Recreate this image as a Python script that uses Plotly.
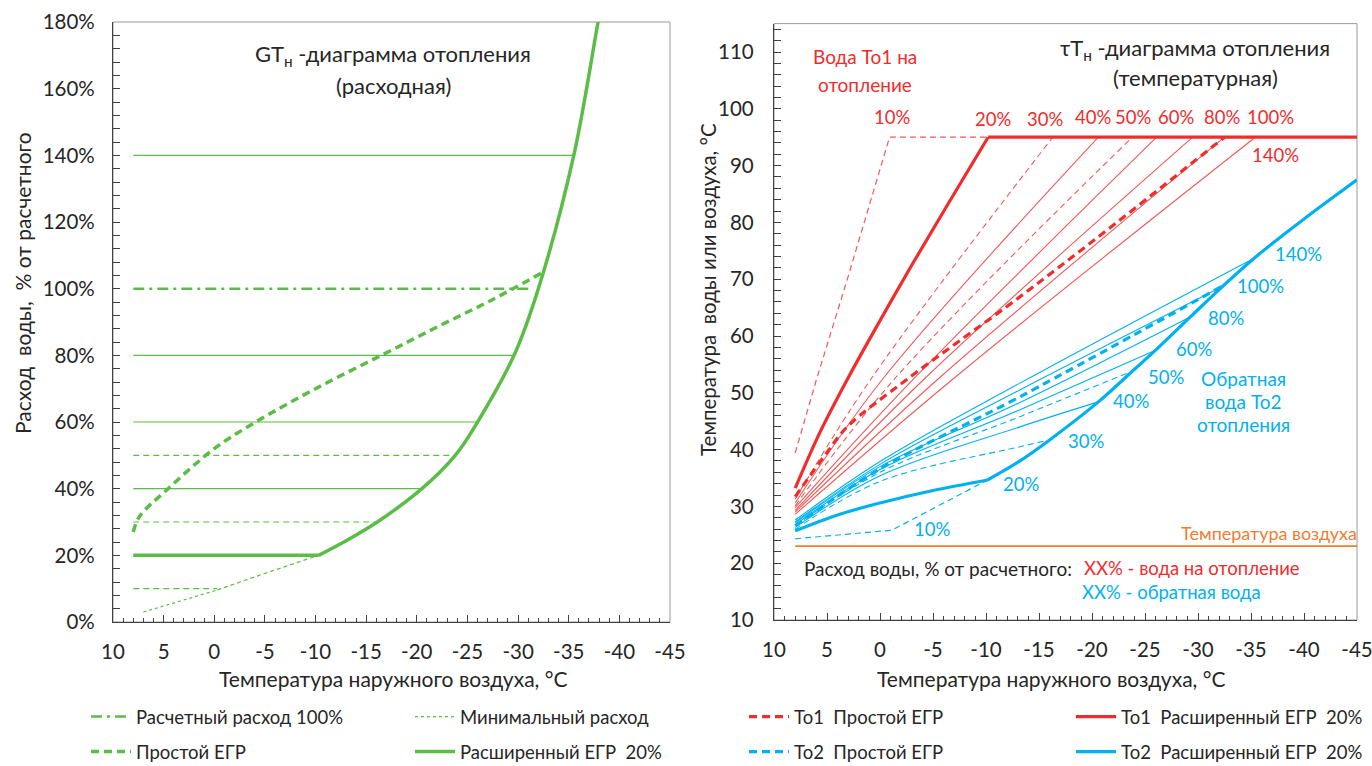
import plotly.graph_objects as go

W, H = 1372, 766
def px(x): return x / W
def py(y): return (H - y) / H

GREEN = "#5BBD45"
RED = "#F02C2C"
RED_THIN = "#F25858"
BLUE = "#00B0F0"
ORANGE = "#ED7D31"
TXT = "#262626"
FONT = "Lato, 'Noto Sans', sans-serif"

# ---------------- data: axes ----------------
x_ticks = [10, 5, 0, -5, -10, -15, -20, -25, -30, -35, -40, -45]
x_tick_text = ["10", "5", "0", "-5", "-10", "-15", "-20", "-25", "-30", "-35", "-40", "-45"]
g_ticks = [0, 20, 40, 60, 80, 100, 120, 140, 160, 180]
g_tick_text = ["0%", "20%", "40%", "60%", "80%", "100%", "120%", "140%", "160%", "180%"]
T_ticks = [10, 20, 30, 40, 50, 60, 70, 80, 90, 100, 110]

# ---------------- data: left chart (flow, %) ----------------
design_t = [8, -31.5]
design_g = [100, 100]
min_t = [7, 3.5, -0.3]
min_g = [3, 6.2, 9.6]
min2_t = [-0.3, -5, -10.3]
min2_g = [9.6, 14.6, 20]
simple_t = [8, 7.4, 4.7, 0, -4.1, -10, -16.5, -22, -27.4, -32.5]
simple_g = [27, 31.6, 39.6, 52, 60, 70, 80, 88.5, 96.6, 105]
ext_flat_t = [8, -10.3]
ext_flat_g = [20, 20]
ext_t = [-10.3, -13.2, -16.1, -20.5, -23.8, -26, -29.6, -32, -35.5, -37.9, -38.6]
ext_g = [20, 24.7, 30, 40, 50, 60, 80, 100, 140, 180, 191]
level_start = 8
solid_levels = [40, 60, 80, 140]
solid_level_ends = [-20.5, -26, -29.6, -35.5]
dashed_levels = [10, 30, 50]
dashed_level_ends = [-0.3, -16.1, -23.8]

# ---------------- data: right chart (temperature, °C) ----------------
to1_10_t = [8, 6, 3, -0.9, -10.2]
to1_10_T = [39.4, 52.3, 70.5, 95, 95]
to1_ext_t = [8, 5.7, 3.1, 0, -3.1, -6.5, -10.2]
to1_ext_T = [33.2, 42.9, 52.3, 62.7, 72.8, 83.5, 95]
to1_flat_t = [-10.2, -45]
to1_flat_T = [95, 95]
to1_simple_t = [8, 5, 3.1, -2.5, -13.2, -22, -32.5]
to1_simple_T = [31.7, 39.5, 44, 52.3, 66.9, 79.5, 95]
to1_thin = {  # flow %: (t list, T list, dashed?)
    30: ([8, 0.9, -16.3], [31.3, 52.3, 95], True),
    40: ([8, -0.2, -20.6], [30.6, 52.3, 95], False),
    50: ([8, -1.3, -23.8], [30.1, 52.3, 95], True),
    60: ([8, -3.1, -26.1], [29.8, 52.3, 95], False),
    80: ([8, -4.1, -29.5], [29.3, 52.3, 95], False),
    100: ([8, -5.4, -32.5], [29.0, 52.3, 95], False),
    140: ([8, -6.8, -35.4], [28.6, 52.3, 95], False),
}
to2_10_t = [8, -1.1, -10.1]
to2_10_T = [24.3, 25.8, 34.6]
to2_ext_a_t = [8, 4, 0, -5, -10.1]
to2_ext_a_T = [25.7, 28.5, 30.6, 32.8, 34.6]
to2_ext_b_t = [-10.1, -13.2, -16, -20.6, -23.8, -26, -29.3, -32.3, -35.3, -40, -45]
to2_ext_b_T = [34.6, 38.0, 41.7, 48.4, 53.8, 57.5, 63.4, 68.7, 73.7, 80.6, 87.5]
to2_simple_t = [8, 0, -13.2, -32.5]
to2_simple_T = [26.6, 36.6, 49.3, 69.0]
to2_thin = {
    30: ([8, 0, -13.2, -16], [26.0, 34.4, 40.5, 41.7], True),
    40: ([8, 0, -13.2, -20.6], [26.3, 35.4, 44.0, 48.4], False),
    50: ([8, 0, -13.2, -23.8], [26.6, 36.0, 45.8, 53.8], True),
    60: ([8, 0, -13.2, -26.0], [26.8, 36.5, 47.0, 57.5], False),
    80: ([8, 0, -13.2, -29.3], [27.1, 37.0, 48.3, 63.4], False),
    100: ([8, 0, -13.2, -32.3], [27.3, 37.4, 50.5, 68.7], False),
    140: ([8, 0, -13.2, -35.3], [27.6, 37.9, 51.7, 73.7], False),
}
air_t = [8, -45]
air_T = [23, 23]

red_labels = ["10%", "20%", "30%", "40%", "50%", "60%", "80%", "100%", "140%"]
blue_labels = ["10%", "20%", "30%", "40%", "50%", "60%", "80%", "100%", "140%"]

# label positions (pixels)
red_label_pos = [(892, 117), (993, 119), (1045, 119), (1093, 117), (1133, 117),
                 (1176, 117), (1222, 117), (1270, 117), (1275, 155)]
blue_label_pos = [(932, 529), (1021, 484), (1086, 441), (1131, 401), (1166, 377),
                  (1194, 349), (1226, 318), (1260, 286), (1298, 254)]

fig = go.Figure()

def add(x, y, color, width, dash="solid", xa="x", ya="y", name=None, legend=None, shape="linear"):
    fig.add_trace(go.Scatter(
        x=x, y=y, mode="lines", xaxis=xa, yaxis=ya,
        line=dict(color=color, width=width, dash=dash, shape=shape),
        name=name if name else "", showlegend=bool(name),
        legend=legend if legend else "legend", hoverinfo="skip"))

# ---- left chart ----
for lv, te in zip(solid_levels, solid_level_ends):
    add([level_start, te], [lv, lv], GREEN, 1.2)
for lv, te in zip(dashed_levels, dashed_level_ends):
    add([level_start, te], [lv, lv], GREEN, 1.2, dash="6px,4px")
add(design_t, design_g, GREEN, 2.5, dash="11px,5px,3px,5px", name="Расчетный расход 100%", legend="legend")
add(min_t, min_g, GREEN, 1.2, dash="dot", name="Минимальный расход", legend="legend")
add(min2_t, min2_g, GREEN, 1.2, dash="4px,3px")
add(simple_t, simple_g, GREEN, 3.5, dash="8px,5px", name="Простой ЕГР", legend="legend2", shape="spline")
add(ext_flat_t, ext_flat_g, GREEN, 3.5, name="Расширенный ЕГР  20%", legend="legend2")
add(ext_t, ext_g, GREEN, 3.5, shape="spline")

# ---- right chart ----
add(air_t, air_T, ORANGE, 1.6, xa="x2", ya="y2")
add(to1_10_t, to1_10_T, RED_THIN, 1.2, dash="6px,4px", xa="x2", ya="y2")
for f, (tt, TT, dsh) in to1_thin.items():
    add(tt, TT, RED_THIN, 1.1, dash="6px,4px" if dsh else "solid", xa="x2", ya="y2", shape="spline")
for f, (tt, TT, dsh) in to2_thin.items():
    add(tt, TT, BLUE, 1.1, dash="6px,4px" if dsh else "solid", xa="x2", ya="y2", shape="spline")
add(to2_10_t, to2_10_T, BLUE, 1.2, dash="6px,4px", xa="x2", ya="y2")
add(to1_simple_t, to1_simple_T, RED, 3.2, dash="8px,5px", xa="x2", ya="y2",
    name="То1  Простой ЕГР", legend="legend3", shape="spline")
add(to1_ext_t, to1_ext_T, RED, 3.2, xa="x2", ya="y2",
    name="То1  Расширенный ЕГР  20%", legend="legend3", shape="spline")
add(to1_flat_t, to1_flat_T, RED, 3.2, xa="x2", ya="y2")
add(to2_simple_t, to2_simple_T, BLUE, 3.2, dash="8px,5px", xa="x2", ya="y2",
    name="То2  Простой ЕГР", legend="legend4", shape="spline")
add(to2_ext_a_t, to2_ext_a_T, BLUE, 3.2, xa="x2", ya="y2",
    name="То2  Расширенный ЕГР  20%", legend="legend4", shape="spline")
add(to2_ext_b_t, to2_ext_b_T, BLUE, 3.2, xa="x2", ya="y2", shape="spline")

TICKFONT = dict(family=FONT, size=20.5, color=TXT)
axis_common = dict(showgrid=False, zeroline=False, showline=True, linecolor="#404040",
                   linewidth=1.3, mirror=False, ticks="inside", ticklen=7, tickcolor="#404040",
                   tickfont=TICKFONT, ticklabeloverflow="allow")
minor_x = dict(ticks="inside", tickmode="linear", tick0=0, dtick=1, ticklen=4, tickcolor="#404040")

fig.update_layout(
    width=W, height=H, margin=dict(l=0, r=0, t=0, b=0, autoexpand=False),
    paper_bgcolor="white", plot_bgcolor="white",
    font=dict(family=FONT, color=TXT),
    xaxis=dict(domain=[px(113), px(670)], range=[10, -45], anchor="y",
               tickmode="array", tickvals=x_ticks, ticktext=x_tick_text,
               ticklabelstandoff=11, minor=minor_x, **axis_common),
    yaxis=dict(domain=[py(622), py(22)], range=[0, 180], anchor="x",
               tickmode="array", tickvals=g_ticks, ticktext=g_tick_text,
               ticklabelstandoff=13,
               minor=dict(ticks="inside", tickmode="linear", tick0=0, dtick=4, ticklen=7, tickcolor="#404040"),
               **axis_common),
    xaxis2=dict(domain=[px(774), px(1357)], range=[10, -45], anchor="y2",
                tickmode="array", tickvals=x_ticks, ticktext=x_tick_text,
                ticklabelstandoff=11, minor=minor_x, **axis_common),
    yaxis2=dict(domain=[py(620), py(23.6)], range=[10, 115], anchor="x2",
                tickmode="array", tickvals=T_ticks,
                ticklabelstandoff=15,
                minor=dict(ticks="inside", tickmode="linear", tick0=0, dtick=2, ticklen=7, tickcolor="#404040"),
                **axis_common),
)

# frames (top/right lighter)
for xr, yr in (("x", "y"), ("x2", "y2")):
    fig.add_shape(type="rect", xref=f"{xr} domain", yref=f"{yr} domain", x0=0, x1=1, y0=0, y1=1,
                  line=dict(color="#9A9A9A", width=1), layer="below")

leg_font = dict(family=FONT, size=18.5, color=TXT)
def leg(x, y, ew):
    return dict(orientation="h", x=px(x), y=py(y), xanchor="left", yanchor="middle",
                entrywidth=ew, entrywidthmode="pixels", font=leg_font,
                bgcolor="rgba(0,0,0,0)", itemwidth=40)
fig.update_layout(legend=leg(86, 717, 269), legend2=leg(86, 752, 269),
                  legend3=leg(744, 717, 272), legend4=leg(744, 752, 272))

ann = []
def text(x, y, s, size=18, color=TXT, angle=0, xanchor="center"):
    ann.append(dict(x=px(x), y=py(y), xref="paper", yref="paper", text=s, showarrow=False,
                    font=dict(family=FONT, size=size, color=color), textangle=angle,
                    xanchor=xanchor, yanchor="middle"))

text(393, 55, "GT<sub>н</sub> -диаграмма отопления", 22)
text(393, 85, "(расходная)", 22)
text(1195, 49, "τT<sub>н</sub> -диаграмма отопления", 22)
text(1195, 77, "(температурная)", 22)
text(865, 57, "Вода То1 на", 19, RED)
text(865, 84, "отопление", 19, RED)
for s, (x, y) in zip(red_labels, red_label_pos):
    text(x, y, s, 18.5, RED)
for s, (x, y) in zip(blue_labels, blue_label_pos):
    text(x, y, s, 18.5, BLUE)
text(1243, 378, "Обратная", 19, BLUE)
text(1243, 401, "вода То2", 19, BLUE)
text(1243, 424, "отопления", 19, BLUE)
text(1269, 533, "Температура воздуха", 18, ORANGE)
text(802, 568, "Расход воды, % от расчетного:", 19, TXT, xanchor="left")
text(1082, 568, "XX% - вода на отопление", 18.5, RED, xanchor="left")
text(1080, 592, "XX% - обратная вода", 18.5, BLUE, xanchor="left")
text(393, 678, "Температура наружного воздуха, °C", 21)
text(1051, 678, "Температура наружного воздуха, °C", 21)
text(22, 283, "Расход  воды,  % от расчетного", 21, angle=-90)
text(708, 290, "Температура  воды или воздуха, °C", 20.5, angle=-90)
fig.update_layout(annotations=ann)

fig.write_html("out.html", post_script="document.body.style.margin='0';",
               config={"displayModeBar": False})
